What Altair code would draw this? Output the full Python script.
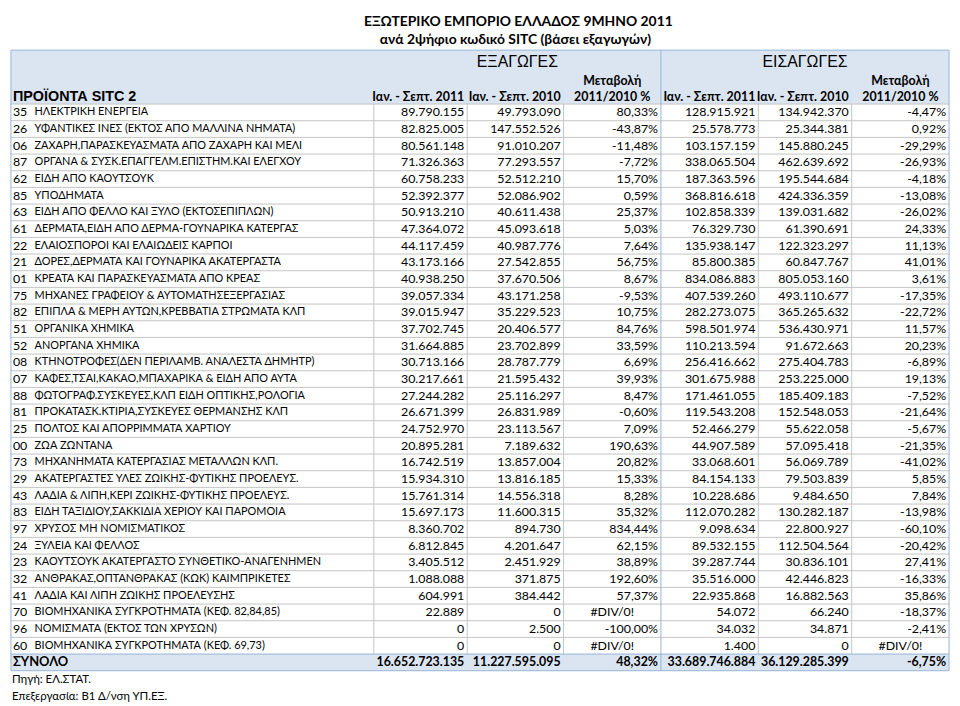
import altair as alt
import pandas as pd

# ---------------- data ----------------
codes = ["35", "26", "06", "87", "62", "85", "63", "61", "22", "21", "01", "75", "82", "51", "52", "08", "07",
         "88", "81", "25", "00", "73", "29", "43", "83", "97", "24", "23", "32", "41", "70", "96", "60"]

names = [
    "ΗΛΕΚΤΡΙΚΗ ΕΝΕΡΓΕΙΑ",
    "ΥΦΑΝΤΙΚΕΣ ΙΝΕΣ (ΕΚΤΟΣ ΑΠΟ ΜΑΛΛΙΝΑ ΝΗΜΑΤΑ)",
    "ΖΑΧΑΡΗ,ΠΑΡΑΣΚΕΥΑΣΜΑΤΑ ΑΠΟ ΖΑΧΑΡΗ ΚΑΙ ΜΕΛΙ",
    "ΟΡΓΑΝΑ & ΣΥΣΚ.ΕΠΑΓΓΕΛΜ.ΕΠΙΣΤΗΜ.ΚΑΙ ΕΛΕΓΧΟΥ",
    "ΕΙΔΗ ΑΠΟ ΚΑΟΥΤΣΟΥΚ",
    "ΥΠΟΔΗΜΑΤΑ",
    "ΕΙΔΗ ΑΠΟ ΦΕΛΛΟ ΚΑΙ ΞΥΛΟ (ΕΚΤΟΣΕΠΙΠΛΩΝ)",
    "ΔΕΡΜΑΤΑ,ΕΙΔΗ ΑΠΟ ΔΕΡΜΑ-ΓΟΥΝΑΡΙΚΑ ΚΑΤΕΡΓΑΣ",
    "ΕΛΑΙΟΣΠΟΡΟΙ ΚΑΙ ΕΛΑΙΩΔΕΙΣ ΚΑΡΠΟΙ",
    "ΔΟΡΕΣ,ΔΕΡΜΑΤΑ ΚΑΙ ΓΟΥΝΑΡΙΚΑ ΑΚΑΤΕΡΓΑΣΤΑ",
    "ΚΡΕΑΤΑ ΚΑΙ ΠΑΡΑΣΚΕΥΑΣΜΑΤΑ ΑΠΟ ΚΡΕΑΣ",
    "ΜΗΧΑΝΕΣ ΓΡΑΦΕΙΟΥ & ΑΥΤΟΜΑΤΗΣΕΞΕΡΓΑΣΙΑΣ",
    "ΕΠΙΠΛΑ & ΜΕΡΗ ΑΥΤΩΝ,ΚΡΕΒΒΑΤΙΑ ΣΤΡΩΜΑΤΑ ΚΛΠ",
    "ΟΡΓΑΝΙΚΑ ΧΗΜΙΚΑ",
    "ΑΝΟΡΓΑΝΑ ΧΗΜΙΚΑ",
    "ΚΤΗΝΟΤΡΟΦΕΣ(ΔΕΝ ΠΕΡΙΛΑΜΒ. ΑΝΑΛΕΣΤΑ ΔΗΜΗΤΡ)",
    "ΚΑΦΕΣ,ΤΣΑΙ,ΚΑΚΑΟ,ΜΠΑΧΑΡΙΚΑ & ΕΙΔΗ ΑΠΟ ΑΥΤΑ",
    "ΦΩΤΟΓΡΑΦ.ΣΥΣΚΕΥΕΣ,ΚΛΠ ΕΙΔΗ ΟΠΤΙΚΗΣ,ΡΟΛΟΓΙΑ",
    "ΠΡΟΚΑΤΑΣΚ.ΚΤΙΡΙΑ,ΣΥΣΚΕΥΕΣ ΘΕΡΜΑΝΣΗΣ ΚΛΠ",
    "ΠΟΛΤΟΣ ΚΑΙ ΑΠΟΡΡΙΜΜΑΤΑ ΧΑΡΤΙΟΥ",
    "ΖΩΑ ΖΩΝΤΑΝΑ",
    "ΜΗΧΑΝΗΜΑΤΑ ΚΑΤΕΡΓΑΣΙΑΣ ΜΕΤΑΛΛΩΝ ΚΛΠ.",
    "ΑΚΑΤΕΡΓΑΣΤΕΣ ΥΛΕΣ ΖΩΙΚΗΣ-ΦΥΤΙΚΗΣ ΠΡΟΕΛΕΥΣ.",
    "ΛΑΔΙΑ & ΛΙΠΗ,ΚΕΡΙ ΖΩΙΚΗΣ-ΦΥΤΙΚΗΣ ΠΡΟΕΛΕΥΣ.",
    "ΕΙΔΗ ΤΑΞΙΔΙΟΥ,ΣΑΚΚΙΔΙΑ ΧΕΡΙΟΥ ΚΑΙ ΠΑΡΟΜΟΙΑ",
    "ΧΡΥΣΟΣ ΜΗ ΝΟΜΙΣΜΑΤΙΚΟΣ",
    "ΞΥΛΕΙΑ ΚΑΙ ΦΕΛΛΟΣ",
    "ΚΑΟΥΤΣΟΥΚ ΑΚΑΤΕΡΓΑΣΤΟ ΣΥΝΘΕΤΙΚΟ-ΑΝΑΓΕΝΗΜΕΝ",
    "ΑΝΘΡΑΚΑΣ,ΟΠΤΑΝΘΡΑΚΑΣ (ΚΩΚ) ΚΑΙΜΠΡΙΚΕΤΕΣ",
    "ΛΑΔΙΑ ΚΑΙ ΛΙΠΗ ΖΩΙΚΗΣ ΠΡΟΕΛΕΥΣΗΣ",
    "ΒΙΟΜΗΧΑΝΙΚΑ ΣΥΓΚΡΟΤΗΜΑΤΑ (ΚΕΦ. 82,84,85)",
    "ΝΟΜΙΣΜΑΤΑ (ΕΚΤΟΣ ΤΩΝ ΧΡΥΣΩΝ)",
    "ΒΙΟΜΗΧΑΝΙΚΑ ΣΥΓΚΡΟΤΗΜΑΤΑ (ΚΕΦ. 69,73)",
]

exp_2011 = [89790155, 82825005, 80561148, 71326363, 60758233, 52392377, 50913210, 47364072, 44117459,
            43173166, 40938250, 39057334, 39015947, 37702745, 31664885, 30713166, 30217661, 27244282,
            26671399, 24752970, 20895281, 16742519, 15934310, 15761314, 15697173, 8360702, 6812845,
            3405512, 1088088, 604991, 22889, 0, 0]
exp_2010 = [49793090, 147552526, 91010207, 77293557, 52512210, 52086902, 40611438, 45093618, 40987776,
            27542855, 37670506, 43171258, 35229523, 20406577, 23702899, 28787779, 21595432, 25116297,
            26831989, 23113567, 7189632, 13857004, 13816185, 14556318, 11600315, 894730, 4201647,
            2451929, 371875, 384442, 0, 2500, 0]
exp_change = [80.33, -43.87, -11.48, -7.72, 15.70, 0.59, 25.37, 5.03, 7.64, 56.75, 8.67, -9.53, 10.75,
              84.76, 33.59, 6.69, 39.93, 8.47, -0.60, 7.09, 190.63, 20.82, 15.33, 8.28, 35.32, 834.44,
              62.15, 38.89, 192.60, 57.37, None, -100.00, None]
imp_2011 = [128915921, 25578773, 103157159, 338065504, 187363596, 368816618, 102858339, 76329730,
            135938147, 85800385, 834086883, 407539260, 282273075, 598501974, 110213594, 256416662,
            301675988, 171461055, 119543208, 52466279, 44907589, 33068601, 84154133, 10228686,
            112070282, 9098634, 89532155, 39287744, 35516000, 22935868, 54072, 34032, 1400]
imp_2010 = [134942370, 25344381, 145880245, 462639692, 195544684, 424336359, 139031682, 61390691,
            122323297, 60847767, 805053160, 493110677, 365265632, 536430971, 91672663, 275404783,
            253225000, 185409183, 152548053, 55622058, 57095418, 56069789, 79503839, 9484650,
            130282187, 22800927, 112504564, 30836101, 42446823, 16882563, 66240, 34871, 0]
imp_change = [-4.47, 0.92, -29.29, -26.93, -4.18, -13.08, -26.02, 24.33, 11.13, 41.01, 3.61, -17.35,
              -22.72, 11.57, 20.23, -6.89, 19.13, -7.52, -21.64, -5.67, -21.35, -41.02, 5.85, 7.84,
              -13.98, -60.10, -20.42, 27.41, -16.33, 35.86, -18.37, -2.41, None]

total_label = "ΣΥΝΟΛΟ"
totals = [16652723135, 11227595095, 48.32, 33689746884, 36129285399, -6.75]

title_lines = ["ΕΞΩΤΕΡΙΚΟ ΕΜΠΟΡΙΟ ΕΛΛΑΔΟΣ 9ΜΗΝΟ 2011", "ανά 2ψήφιο κωδικό SITC (βάσει εξαγωγών)"]
group_labels = ["ΕΞΑΓΩΓΕΣ", "ΕΙΣΑΓΩΓΕΣ"]
first_header = "ΠΡΟΪΟΝΤΑ SITC 2"
period_labels = ["Ιαν. - Σεπτ. 2011", "Ιαν. - Σεπτ. 2010"]
change_label = ["Μεταβολή", "2011/2010 %"]
footnotes = ["Πηγή: ΕΛ.ΣΤΑΤ.", "Επεξεργασία: Β1 Δ/νση ΥΠ.ΕΞ."]

# ---------------- layout (image pixel units) ----------------
EDGES = [3, 372, 467, 565, 664, 763, 858, 957]
HEAD_TOP = 40
BODY_TOP = 95
ROW_H = 17
N = len(codes)
TOTAL_TOP = BODY_TOP + N * ROW_H
TABLE_BOTTOM = TOTAL_TOP + ROW_H

HEAD_FILL = "#dbe5f1"
BLUE = "#95b3d7"
GRAY = "#c4c4c4"
BODY_FONT = "Lato"
HEAD_FONT = "Liberation Sans"


def fmt_int(v):
    return f"{v:,}".replace(",", ".")


def fmt_pct(v):
    if v is None:
        return "#DIV/0!"
    return f"{v:.2f}".replace(".", ",") + "%"


cells = []  # x, y, text, kind


def add(x, y, text, kind):
    cells.append({"x": x, "y": y, "text": text, "kind": kind})


columns = [exp_2011, exp_2010, exp_change, imp_2011, imp_2010, imp_change]
is_pct = [False, False, True, False, False, True]

for i in range(N):
    yc = BODY_TOP + ROW_H * (i + 0.5)
    add(5, yc, codes[i], "body_left")
    add(27, yc, names[i], "name")
    for c, col in enumerate(columns):
        txt = fmt_pct(col[i]) if is_pct[c] else fmt_int(col[i])
        if txt == "#DIV/0!":
            add((EDGES[c + 1] + EDGES[c + 2]) / 2, yc, txt, "body_center")
        else:
            add(EDGES[c + 2] - 3, yc, txt, "body_right")

yt = TOTAL_TOP + ROW_H * 0.5
add(5, yt, total_label, "bold_left")
for c, v in enumerate(totals):
    txt = fmt_pct(v) if is_pct[c] else fmt_int(v)
    add(EDGES[c + 2] - 3, yt, txt, "bold_right")

# headers
add(5, 88, first_header, "head_left")
for c in range(6):
    if is_pct[c]:
        cx = (EDGES[c + 1] + EDGES[c + 2]) / 2
        add(cx, 72, change_label[0], "bold_center")
        add(cx, 88, change_label[1], "bold_center")
    else:
        add(EDGES[c + 2] - 3, 88, period_labels[c % 3], "bold_right")
add((EDGES[1] + EDGES[4]) / 2, 52, group_labels[0], "group")
add((EDGES[4] + EDGES[7]) / 2, 52, group_labels[1], "group")
add(519, 11, title_lines[0], "title")
add(516, 30, title_lines[1], "title")
add(4, 683, footnotes[0], "foot")
add(4, 700, footnotes[1], "foot")

cells_df = pd.DataFrame(cells)

# rectangles
rects_df = pd.DataFrame([
    {"x": EDGES[0], "x2": EDGES[-1], "y": HEAD_TOP, "y2": BODY_TOP},
    {"x": EDGES[0], "x2": EDGES[-1], "y": TOTAL_TOP, "y2": TABLE_BOTTOM},
])

# rules
rules = []
for k in range(0, N):
    yk = BODY_TOP + ROW_H * k
    rules.append({"x": EDGES[0], "x2": EDGES[-1], "y": yk, "y2": yk, "color": GRAY})
for e in [EDGES[1], EDGES[2], EDGES[3], EDGES[5], EDGES[6]]:
    rules.append({"x": e, "x2": e, "y": BODY_TOP, "y2": TOTAL_TOP, "color": GRAY})
rules.append({"x": EDGES[0], "x2": EDGES[-1], "y": TOTAL_TOP, "y2": TOTAL_TOP, "color": BLUE})
rules.append({"x": EDGES[0], "x2": EDGES[-1], "y": HEAD_TOP, "y2": HEAD_TOP, "color": BLUE})
rules.append({"x": EDGES[0], "x2": EDGES[-1], "y": TABLE_BOTTOM, "y2": TABLE_BOTTOM, "color": BLUE})
for e in [EDGES[0], EDGES[4], EDGES[7]]:
    rules.append({"x": e, "x2": e, "y": HEAD_TOP, "y2": TABLE_BOTTOM, "color": BLUE})
rules_df = pd.DataFrame(rules)

# ---------------- chart ----------------
xs = alt.Scale(domain=[0, 960], range=[0, 952])
ys = alt.Scale(domain=[0, 706], range=[0, 698])

X = alt.X("x:Q", scale=xs, axis=None)
Y = alt.Y("y:Q", scale=ys, axis=None)

rect_layer = alt.Chart(rects_df).mark_rect(color=HEAD_FILL).encode(
    x=X, x2="x2:Q", y=Y, y2="y2:Q")

rule_layer = alt.Chart(rules_df).mark_rule(strokeWidth=1).encode(
    x=X, x2="x2:Q", y=Y, y2="y2:Q", color=alt.Color("color:N", scale=None))


def text_layer(kind, **kw):
    return alt.Chart(cells_df).transform_filter(alt.datum.kind == kind).mark_text(
        baseline="middle", color="#000000", **kw).encode(x=X, y=Y, text="text:N")


layers = [
    rect_layer,
    rule_layer,
    text_layer("body_left", align="left", font=BODY_FONT, fontSize=12.5),
    text_layer("name", align="left", font=BODY_FONT, fontSize=11),
    text_layer("foot", align="left", font=BODY_FONT, fontSize=11.5),
    text_layer("body_right", align="right", font=BODY_FONT, fontSize=12.5),
    text_layer("body_center", align="center", font=BODY_FONT, fontSize=12.5),
    text_layer("bold_left", align="left", font=BODY_FONT, fontSize=13, fontWeight="bold"),
    text_layer("bold_right", align="right", font=BODY_FONT, fontSize=12.5, fontWeight="bold"),
    text_layer("bold_center", align="center", font=BODY_FONT, fontSize=12.5, fontWeight="bold"),
    text_layer("head_left", align="left", font=HEAD_FONT, fontSize=14.5, fontWeight="bold"),
    text_layer("group", align="center", font=HEAD_FONT, fontSize=16),
    text_layer("title", align="center", font=BODY_FONT, fontSize=14, fontWeight="bold"),
]

chart = alt.layer(*layers).properties(
    width=952, height=698, padding=0, autosize=alt.AutoSizeParams(type="none")
).configure_view(stroke=None)

chart.save("out.html", embed_options={"renderer": "svg", "actions": False})
